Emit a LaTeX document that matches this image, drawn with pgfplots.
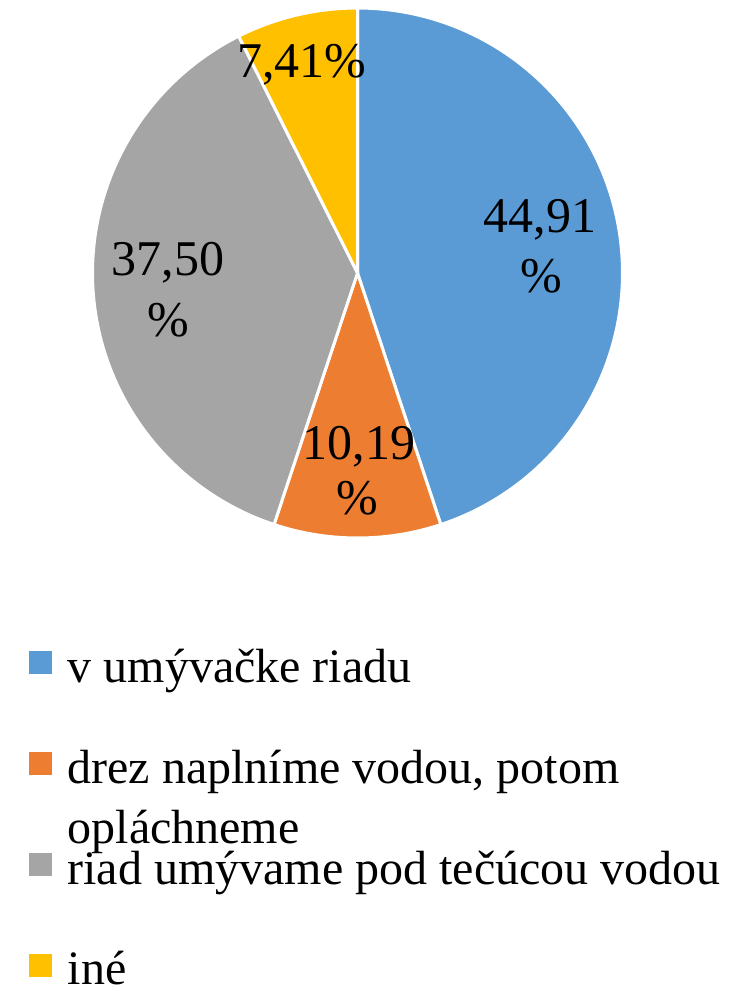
\documentclass[border=0pt]{standalone}
\usepackage{pgfplots}
\pgfplotsset{compat=1.18}
\usepackage{fontspec}
\setmainfont{Liberation Serif}
\definecolor{pieblue}{HTML}{5B9BD5}
\definecolor{pieorange}{HTML}{ED7D31}
\definecolor{piegray}{HTML}{A5A5A5}
\definecolor{pieyellow}{HTML}{FFC000}
% data (percent)
\def\vA{44.91}
\def\vB{10.19}
\def\vC{37.50}
\def\vD{7.41}
\pgfmathsetmacro\aA{90}
\pgfmathsetmacro\aB{\aA-3.6*\vA}
\pgfmathsetmacro\aC{\aB-3.6*\vB}
\pgfmathsetmacro\aD{\aC-3.6*\vC}
\pgfmathsetmacro\aE{\aD-3.6*\vD}
\def\cx{357.5}
\def\cy{273}
\def\R{265}
\newcommand\lfont{\fontsize{36}{45}\selectfont}
\newcommand\pfont{\fontsize{37.5}{45}\selectfont}
\newcommand\lstrut{\rule[-9pt]{0pt}{40pt}}
\begin{document}
\begin{tikzpicture}
\begin{axis}[
  scale only axis, width=553.5pt, height=738.75pt,
  xmin=0, xmax=738, ymin=0, ymax=985, y dir=reverse,
  hide axis, clip=false,
  legend style={draw=none, fill=none, inner sep=0pt, outer sep=0pt,
    at={(axis cs:29,638)}, anchor=north west,
    cells={anchor=west, inner sep=0pt, outer sep=0pt},
    column sep=9.75pt, row sep=39pt, font=\lfont},
]
\addplot[fill=pieblue, draw=white, line width=2.25pt, domain=\aB:\aA, samples=120, variable=\t,
  legend image code/.code={\fill[pieblue] (0pt,-7.5pt) rectangle (15pt,7.5pt);}]
  ({\cx+\R*cos(t)},{\cy-\R*sin(t)}) -- (axis cs:\cx,\cy) -- cycle;
\addlegendentry{\lstrut v umývačke riadu}
\addplot[fill=pieorange, draw=white, line width=2.25pt, domain=\aC:\aB, samples=40, variable=\t,
  legend image code/.code={\fill[pieorange] (0pt,-7.5pt) rectangle (15pt,7.5pt);}]
  ({\cx+\R*cos(t)},{\cy-\R*sin(t)}) -- (axis cs:\cx,\cy) -- cycle;
\addlegendentry{\lstrut\raisebox{0pt}[\height][0pt]{\begin{tabular}[t]{@{}l@{}}drez naplníme vodou, potom\\opláchneme\end{tabular}}}
\addplot[fill=piegray, draw=white, line width=2.25pt, domain=\aD:\aC, samples=120, variable=\t,
  legend image code/.code={\fill[piegray] (0pt,-7.5pt) rectangle (15pt,7.5pt);}]
  ({\cx+\R*cos(t)},{\cy-\R*sin(t)}) -- (axis cs:\cx,\cy) -- cycle;
\addlegendentry{\lstrut riad umývame pod tečúcou vodou}
\addplot[fill=pieyellow, draw=white, line width=2.25pt, domain=\aE:\aD, samples=30, variable=\t,
  legend image code/.code={\fill[pieyellow] (0pt,-7.5pt) rectangle (15pt,7.5pt);}]
  ({\cx+\R*cos(t)},{\cy-\R*sin(t)}) -- (axis cs:\cx,\cy) -- cycle;
\addlegendentry{\lstrut iné}
% data labels
\node[anchor=base, font=\pfont, inner sep=0pt] at (axis cs:540,232) {44,91};
\node[anchor=base, font=\pfont, inner sep=0pt] at (axis cs:541.5,292) {\%};
\node[anchor=base, font=\pfont, inner sep=0pt] at (axis cs:359,459) {10,19};
\node[anchor=base, font=\pfont, inner sep=0pt] at (axis cs:357,514) {\%};
\node[anchor=base, font=\pfont, inner sep=0pt] at (axis cs:168,275) {37,50};
\node[anchor=base, font=\pfont, inner sep=0pt] at (axis cs:168,336) {\%};
\node[anchor=base, font=\pfont, inner sep=0pt] at (axis cs:302,77) {7,41\%};
\end{axis}
\pgfresetboundingbox
\useasboundingbox (current axis.south west) rectangle (current axis.north east);
\end{tikzpicture}
\end{document}
